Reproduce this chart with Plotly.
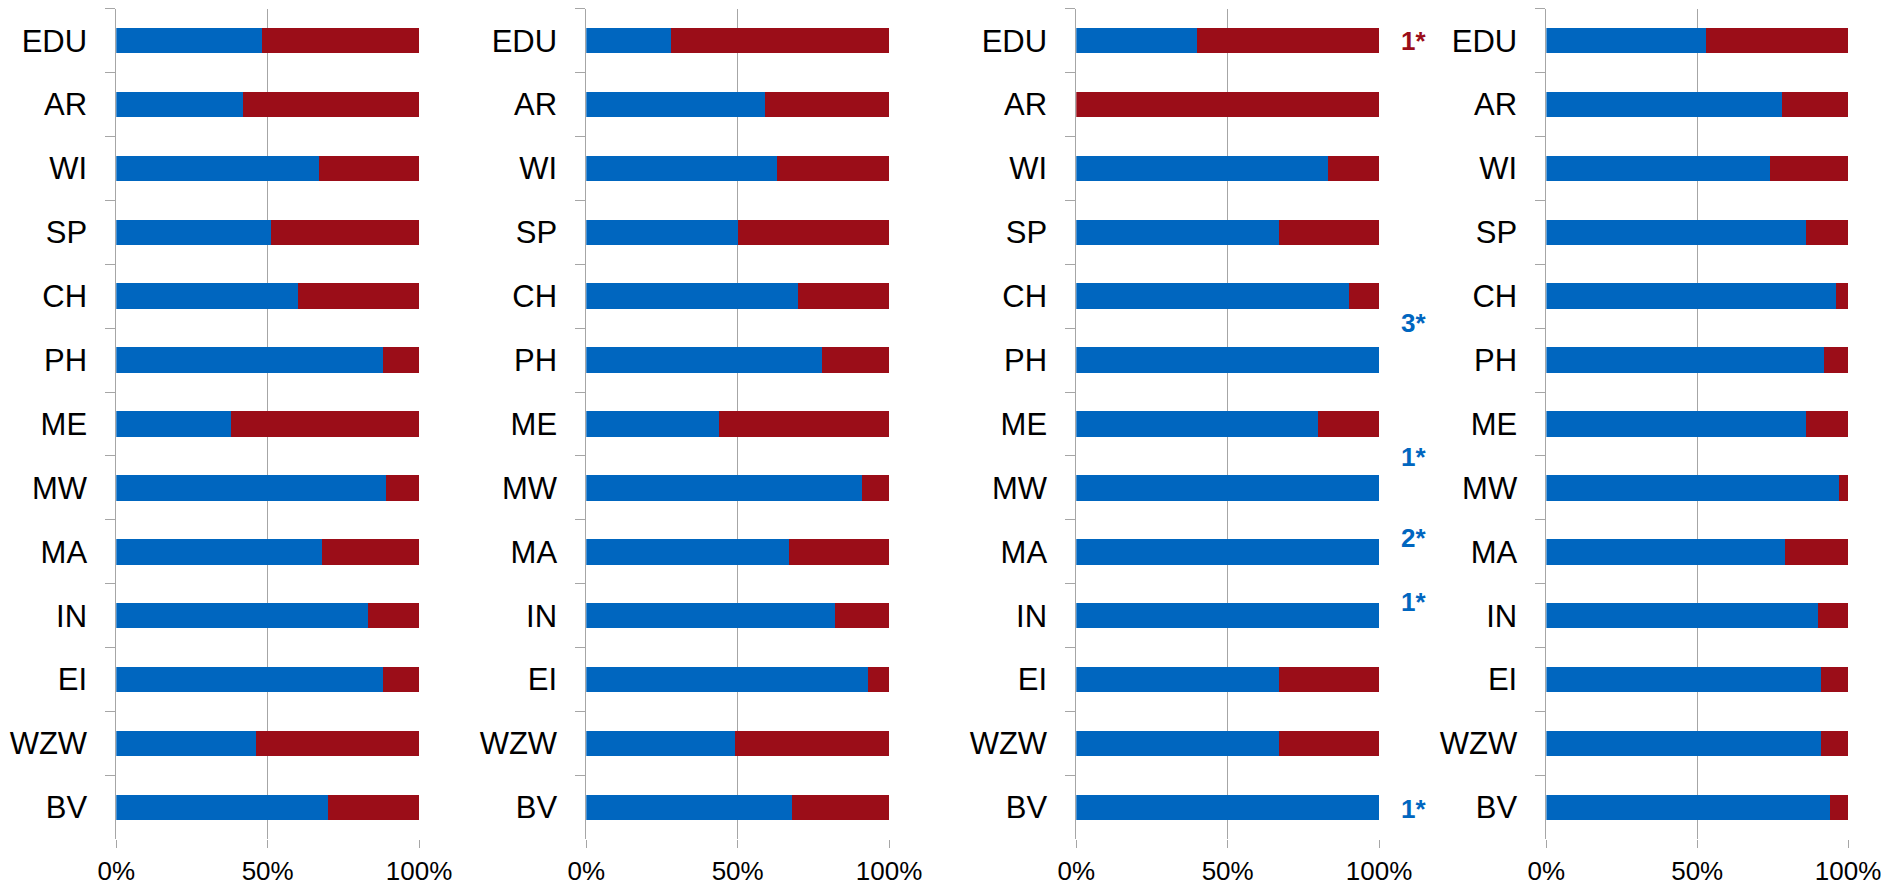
import plotly.graph_objects as go

categories = ["EDU", "AR", "WI", "SP", "CH", "PH", "ME", "MW", "MA", "IN", "EI", "WZW", "BV"]

# blue share (percent) per panel; red share is the remainder to 100 %
panel1_blue = [48, 42, 67, 51, 60, 88, 38, 89, 68, 83, 88, 46, 70]
panel2_blue = [28, 59, 63, 50, 70, 78, 44, 91, 67, 82, 93, 49, 68]
panel3_blue = [40, 0, 83, 67, 90, 100, 80, 100, 100, 100, 67, 67, 100]
panel4_blue = [53, 78, 74, 86, 96, 92, 86, 97, 79, 90, 91, 91, 94]

panels = [panel1_blue, panel2_blue, panel3_blue, panel4_blue]

x_ticks = [0, 0.5, 1.0]
x_tick_labels = ["0%", "50%", "100%"]

# footnote markers next to panel 3
note_texts = ["1*", "3*", "1*", "2*", "1*", "1*"]
note_kinds = ["red", "blue", "blue", "blue", "blue", "blue"]
note_rows = [0.0, 4.42, 6.51, 7.79, 8.78, 12.03]  # position in category units

BLUE = "#0066BF"
RED = "#9B0D18"
GRID = "#A6A6A6"
FONT = "Liberation Sans, Arial, sans-serif"

W, H = 1889, 885
OFF = 8  # page body margin of the browser: the figure sits at (8, 8)
panel_px = [(116.3, 419.0), (586.3, 889.0), (1076.3, 1379.0), (1546.4, 1848.0)]
top_px, bottom_px = 8.7, 839.3
ydom = [(H - (bottom_px - OFF)) / H, (H - (top_px - OFF)) / H]

fig = go.Figure()
layout = {}
for i, blue in enumerate(panels):
    n = "" if i == 0 else str(i + 1)
    xa, ya = "x" + n, "y" + n
    red = [100 - b for b in blue]
    fig.add_trace(go.Bar(y=categories, x=[b / 100 for b in blue], orientation="h",
                         marker=dict(color=BLUE, line=dict(width=0)), width=0.4,
                         xaxis=xa, yaxis=ya, name="blue", showlegend=False))
    fig.add_trace(go.Bar(y=categories, x=[r / 100 for r in red], orientation="h",
                         marker=dict(color=RED, line=dict(width=0)), width=0.4,
                         xaxis=xa, yaxis=ya, name="red", showlegend=False))
    x0, x1 = panel_px[i]
    layout["xaxis" + n] = dict(
        domain=[(x0 - OFF) / W, (x1 - OFF) / W], anchor=ya, range=[0, 1.0],
        tickvals=x_ticks, ticktext=x_tick_labels,
        showgrid=True, gridcolor=GRID, gridwidth=1, zeroline=False,
        showline=False, ticks="outside", ticklen=8, tickcolor=GRID, tickwidth=1,
        tickfont=dict(family=FONT, size=26, color="#000000"),
        ticklabelstandoff=0,
        automargin=False, fixedrange=True,
    )
    layout["yaxis" + n] = dict(
        domain=ydom, anchor=xa, type="category",
        categoryorder="array", categoryarray=categories,
        range=[len(categories) - 0.5, -0.5],
        showgrid=False, zeroline=False,
        showline=True, linecolor=GRID, linewidth=1,
        ticks="outside", tickson="boundaries", ticklen=10, tickcolor=GRID, tickwidth=1,
        tickfont=dict(family=FONT, size=31, color="#000000"),
        ticklabelstandoff=22,
        automargin=False, fixedrange=True,
    )

annotations = []
for t, k, r in zip(note_texts, note_kinds, note_rows):
    annotations.append(dict(
        text="<b>%s</b>" % t, xref="x3 domain", yref="y3",
        x=(1413 - panel_px[2][0]) / (panel_px[2][1] - panel_px[2][0]), y=r,
        showarrow=False, xanchor="center", yanchor="middle",
        font=dict(family=FONT, size=26, color=RED if k == "red" else BLUE),
    ))

fig.update_layout(
    width=W, height=H, margin=dict(l=0, r=0, t=0, b=0, autoexpand=False),
    paper_bgcolor="white", plot_bgcolor="white",
    barmode="stack", showlegend=False,
    annotations=annotations, **layout,
)
fig.write_html("out.html")
